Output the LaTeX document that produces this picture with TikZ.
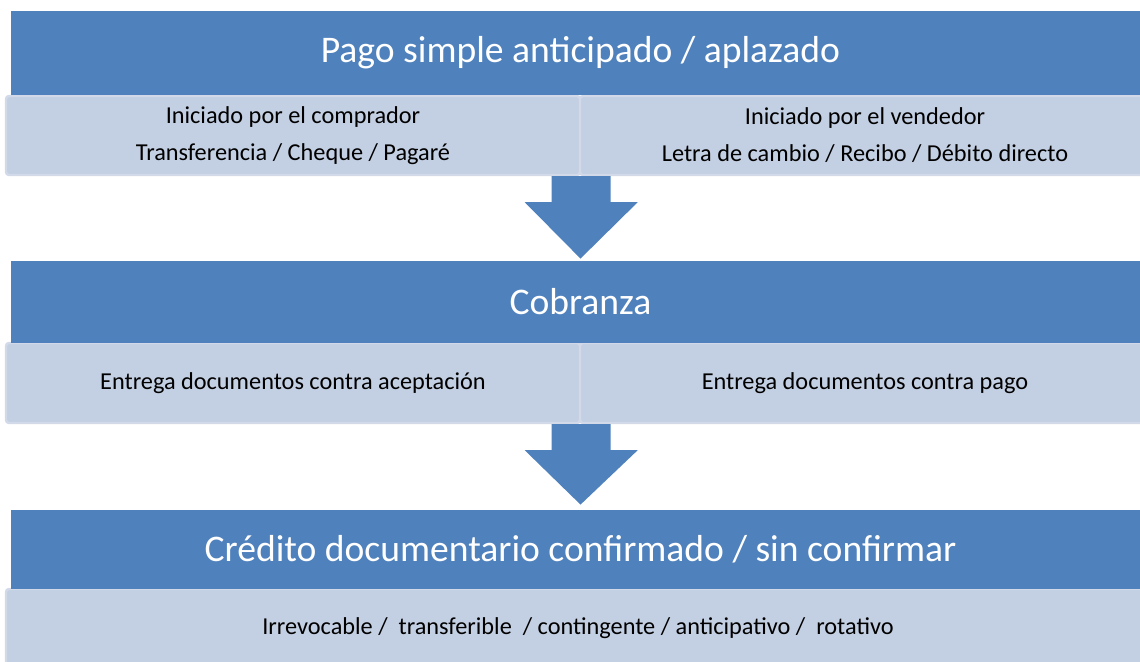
\documentclass[tikz,border=0pt]{standalone}
\usepackage{fontspec}
\setmainfont{Carlito}
\usetikzlibrary{calc}

\definecolor{azul}{HTML}{4F81BD}
\definecolor{celeste}{HTML}{C3CFE2}
\definecolor{borde}{HTML}{D2DAEA}

% block arrow: #1 = top of the shaft, #2 = tip
\newcommand{\bajada}[2]{%
  \fill[azul] ($(#1)+(-29.5,0)$) -- ($(#1)+(29.5,0)$) -- ($(#1)+(29.5,26)$)
    -- ($(#1)+(56.5,26)$) -- (#2) -- ($(#1)+(-56.5,26)$) -- ($(#1)+(-29.5,26)$) -- cycle;}

\begin{document}
\begin{tikzpicture}[
    x=0.5pt, y=-0.5pt,
    header/.style={fill=azul, minimum width=569.5pt, inner sep=0pt, text=white, font=\fontsize{18.8}{22}\selectfont},
    panel/.style={fill=celeste, draw=borde, line width=1.2pt, rounded corners=1.5pt, inner sep=0pt, align=center, font=\fontsize{12.15}{18.5}\selectfont},
]
\useasboundingbox (0,0) rectangle (1140,662);

% --- Row 1: Pago simple ---
\node[panel, minimum width=287pt, minimum height=39.5pt] (comprador) at (293, 135.5) {Iniciado por el comprador\\Transferencia / Cheque / Pagaré};
\node[panel, minimum width=285pt, minimum height=39.5pt] (vendedor) at (865, 135.5) {Iniciado por el vendedor\\Letra de cambio / Recibo / Débito directo};
\node[header, minimum height=42pt] (pago) at (580.5, 53) {Pago simple anticipado / aplazado};

% --- Row 2: Cobranza ---
\node[panel, minimum width=287pt, minimum height=40pt] (aceptacion) at (293, 383) {Entrega documentos contra aceptación};
\node[panel, minimum width=285pt, minimum height=40pt] (contrapago) at (865, 383) {Entrega documentos contra pago};
\node[header, minimum height=41pt] (cobranza) at (580.5, 302) {Cobranza};

% --- Row 3: Credito documentario ---
\node[panel, minimum width=572pt, minimum height=39.5pt] (tipos) at (578, 628.5) {Irrevocable /\ \ transferible\ \ / contingente / anticipativo /\ \ rotativo};
\node[header, minimum height=39.5pt] (credito) at (580.5, 549.5) {Crédito documentario confirmado / sin confirmar};

% === Arrows between rows ===
\bajada{comprador.south east}{$(cobranza.north)+(0,-2)$}
\bajada{aceptacion.south east}{$(credito.north)+(0,-5)$}

\end{tikzpicture}
\end{document}
